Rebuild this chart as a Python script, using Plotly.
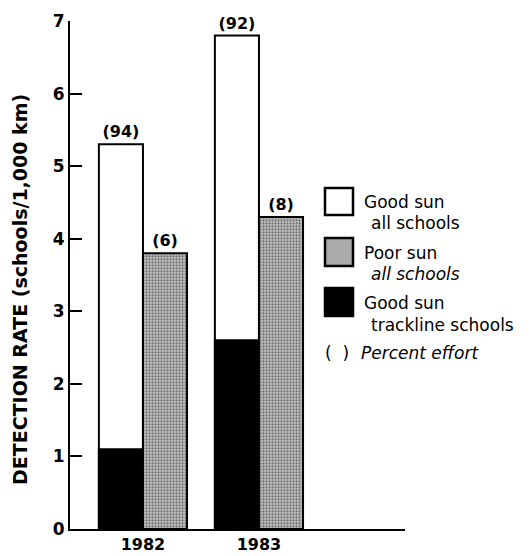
import plotly.graph_objects as go

# ---- data ----
years = ["1982", "1983"]
good_sun_all = [5.3, 6.8]
poor_sun_all = [3.8, 4.3]
good_sun_trackline = [1.1, 2.6]
good_effort = ["(94)", "(92)"]
poor_effort = ["(6)", "(8)"]
y_ticks = [0, 1, 2, 3, 4, 5, 6, 7]

OFF = 8  # default page body margin
W, H = 531 - OFF, 556 - OFF
L, R, T, B = 70 - OFF, 126, 21 - OFF, 27
PW, PH = W - L - R, H - T - B

def px(x):
    return (x - OFF - L) / PW

def py(y):
    return (H - B - (y - OFF)) / PH

FONT = "DejaVu Sans"
BOLD = "DejaVu Sans"

fig = go.Figure()
fig.add_trace(go.Bar(
    x=years, y=good_sun_all, offsetgroup="good", name="Good sun all schools",
    marker=dict(color="white", line=dict(color="black", width=2)),
    text=good_effort, textposition="outside", cliponaxis=False,
    textfont=dict(family=BOLD, size=16, color="black", weight="bold"),
))
fig.add_trace(go.Bar(
    x=years, y=good_sun_trackline, offsetgroup="good", name="Good sun trackline schools",
    marker=dict(color="black", line=dict(color="black", width=2)),
))
fig.add_trace(go.Bar(
    x=years, y=poor_sun_all, offsetgroup="poor", name="Poor sun all schools",
    marker=dict(color="#a8a8a8", line=dict(color="black", width=2),
                pattern=dict(shape=".", fgcolor="#222222", bgcolor="#c4c4c4",
                             size=3, solidity=0.45)),
    text=poor_effort, textposition="outside", cliponaxis=False,
    textfont=dict(family=BOLD, size=16, color="black", weight="bold"),
))

fig.update_layout(
    width=W, height=H, margin=dict(l=L, r=R, t=T, b=B, autoexpand=False),
    paper_bgcolor="white", plot_bgcolor="white",
    barmode="group", bargap=0.24, bargroupgap=0,
    showlegend=False,
    font=dict(family=FONT, color="black"),
)
fig.update_xaxes(
    type="category", range=[-0.629, 2.259], showline=True, linecolor="black",
    linewidth=2, ticks="", showgrid=False, zeroline=False, automargin=False,
    tickfont=dict(family=BOLD, size=16, color="black", weight="bold"),
)
fig.update_yaxes(
    range=[0, 7], tickvals=y_ticks, showline=True, linecolor="black", linewidth=2,
    ticks="inside", ticklen=12, tickwidth=2, tickcolor="black",
    showgrid=False, zeroline=False, automargin=False,
    tickfont=dict(family=BOLD, size=17, color="black", weight="bold"),
)

# y-axis title
fig.add_annotation(
    text="DETECTION RATE (schools/1,000 km)", textangle=-90,
    xref="paper", yref="paper", x=px(20), y=py(290),
    xanchor="center", yanchor="middle",
    showarrow=False, font=dict(family=BOLD, size=19, color="black", weight="bold"),
)

# custom legend
boxes = [
    (188, 215, dict(fillcolor="white")),
    (238, 266, dict(fillcolor="#ababab")),
    (288, 316, dict(fillcolor="black")),
]
for y0, y1, kw in boxes:
    fig.add_shape(type="rect", xref="paper", yref="paper",
                  x0=px(325), x1=px(353), y0=py(y1), y1=py(y0),
                  line=dict(color="black", width=2.5), **kw)

legend_text = [
    (362, 202, "Good sun"),
    (369, 223, "all schools"),
    (362, 253, "Poor sun"),
    (369, 274, "<i>all schools</i>"),
    (362, 303, "Good sun"),
    (369, 325, "trackline schools"),
    (323, 353, "(  )"),
    (359, 353, "<i>Percent effort</i>"),
]
for x, y, t in legend_text:
    fig.add_annotation(text=t, xref="paper", yref="paper", x=px(x), y=py(y),
                       xanchor="left", yanchor="middle", showarrow=False,
                       font=dict(family=FONT, size=17, color="black"))

fig.write_html("out.html")
